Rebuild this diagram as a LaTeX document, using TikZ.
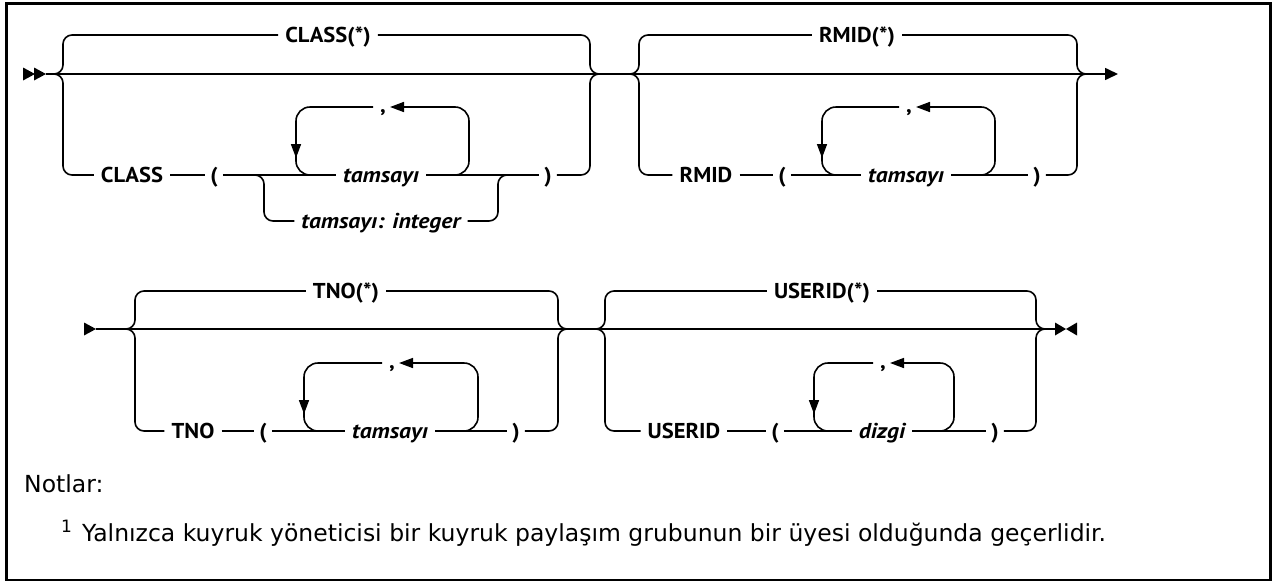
\documentclass[tikz,border=0pt]{standalone}
\usepackage{fontspec}
\usetikzlibrary{arrows.meta,calc}
\newfontfamily\lblf{PT Sans}[FakeStretch=1.05]
\newfontfamily\lblfi{PT Sans}[FakeStretch=1.1]
\newfontfamily\notef{DejaVu Sans}
\begin{document}
\begin{tikzpicture}[x=1pt,y=-1pt,
  ln/.style={line width=1.6pt},
  rc/.style={rounded corners=#1},
  kw/.style={font=\lblf\bfseries\fontsize{21.5}{25}\selectfont, inner xsep=7pt, inner ysep=0pt, text height=15pt, text depth=0pt},
  vr/.style={kw, font=\lblfi\bfseries\itshape\fontsize{21.5}{25}\selectfont},
  pr/.style={kw, inner xsep=5pt},
  commanode/.style={kw, anchor=base, inner xsep=0pt},
  arr/.style={-{Triangle[length=14pt,width=10pt]}},
  note/.style={font=\notef\fontsize{23.5}{27}\selectfont, inner sep=0pt, anchor=base west}]
\useasboundingbox (0,0) rectangle (1277,584);
\fill[white] (0,0) rectangle (1277,584);
\draw[line width=2.2pt] (6.5,3.5) rectangle (1270.5,580);

% ================= ROW 1 =================
\coordinate (st1) at (46,74);
\coordinate (en1) at (1118,74);
\fill (23,67.5) -- (35,74) -- (23,80.5) -- cycle;
\fill (34,67.5) -- (46,74) -- (34,80.5) -- cycle;
\draw[ln,-{Triangle[length=13pt,width=12pt]}] (st1) -- (en1);

% CLASS group
\coordinate (cL) at (63,74);
\coordinate (cR) at (590,74);
\node[kw] (cstar) at (328,35) {CLASS(*)};
\draw[ln,rc=9] ($(cL)+(-9,0)$) -- (cL) |- (cstar.west);
\draw[ln,rc=9] (cstar.east) -| (cR) -- ($(cR)+(9,0)$);
\node[kw] (class) at (132,175) {CLASS};
\node[pr] (lp1) at (214,175) {(};
\node[vr] (tam1) at (381,175) {tamsayı};
\node[pr] (rp1) at (548,175) {)};
\draw[ln,rc=9] ($(cL)+(-9,0)$) -- (cL) |- (class.west);
\draw[ln] (class.east) -- (lp1.west);
\draw[ln] (lp1.east) -- (tam1.west);
\draw[ln] (tam1.east) -- (rp1.west);
\draw[ln,rc=9] (rp1.east) -| (cR) -- ($(cR)+(9,0)$);
% integer alternative
\coordinate (i1L) at (264,175);
\coordinate (i1R) at (498,175);
\node[vr] (int1) at (381,221) {tamsayı: integer};
\draw[ln,rc=9] ($(i1L)+(-9,0)$) -- (i1L) |- (int1.west);
\draw[ln,rc=9] (int1.east) -| (i1R) -- ($(i1R)+(9,0)$);
% repeat loop
\coordinate (o1L) at (296,175);
\coordinate (o1R) at (469,175);
\node[commanode] (com1) at (383,112) {,};
\coordinate (t1) at (390,107);
\coordinate (g1) at (373,107);
\draw[ln,rc=14,arr] ($(o1R)+(-20,0)$) -- (o1R) -- (o1R |- t1) -- (t1);
\draw[ln,rc=14] (g1) -- (o1L |- g1) -- (o1L) -- ($(o1L)+(20,0)$);
\draw[ln,arr] ($(o1L)+(0,-40)$) -- ($(o1L)+(0,-17)$);

% RMID group
\coordinate (rL) at (639,74);
\coordinate (rR) at (1077,74);
\node[kw] (rstar) at (857,35) {RMID(*)};
\draw[ln,rc=9] ($(rL)+(-9,0)$) -- (rL) |- (rstar.west);
\draw[ln,rc=9] (rstar.east) -| (rR) -- ($(rR)+(9,0)$);
\node[kw] (rmid) at (706,175) {RMID};
\node[pr] (lp2) at (782,175) {(};
\node[vr] (tam2) at (906,175) {tamsayı};
\node[pr] (rp2) at (1037,175) {)};
\draw[ln,rc=9] ($(rL)+(-9,0)$) -- (rL) |- (rmid.west);
\draw[ln] (rmid.east) -- (lp2.west);
\draw[ln] (lp2.east) -- (tam2.west);
\draw[ln] (tam2.east) -- (rp2.west);
\draw[ln,rc=9] (rp2.east) -| (rR) -- ($(rR)+(9,0)$);
\coordinate (o2L) at (822,175);
\coordinate (o2R) at (995,175);
\node[commanode] (com2) at (909,112) {,};
\coordinate (t2) at (916,107);
\coordinate (g2) at (899,107);
\draw[ln,rc=14,arr] ($(o2R)+(-20,0)$) -- (o2R) -- (o2R |- t2) -- (t2);
\draw[ln,rc=14] (g2) -- (o2L |- g2) -- (o2L) -- ($(o2L)+(20,0)$);
\draw[ln,arr] ($(o2L)+(0,-40)$) -- ($(o2L)+(0,-17)$);

% ================= ROW 2 =================
\coordinate (st2) at (96,329);
\coordinate (en2) at (1055,329);
\fill (84,322.5) -- (96,329) -- (84,335.5) -- cycle;
\draw[ln] (st2) -- (en2);
\fill (1055,322.5) -- (1066,329) -- (1055,335.5) -- cycle;
\fill (1077,322.5) -- (1066,329) -- (1077,335.5) -- cycle;

% TNO group
\coordinate (tL) at (135,329);
\coordinate (tR) at (558,329);
\node[kw] (tstar) at (346,291) {TNO(*)};
\draw[ln,rc=9] ($(tL)+(-9,0)$) -- (tL) |- (tstar.west);
\draw[ln,rc=9] (tstar.east) -| (tR) -- ($(tR)+(9,0)$);
\node[kw] (tno) at (193,431) {TNO};
\node[pr] (lp3) at (263,431) {(};
\node[vr] (tam3) at (390,431) {tamsayı};
\node[pr] (rp3) at (516,431) {)};
\draw[ln,rc=9] ($(tL)+(-9,0)$) -- (tL) |- (tno.west);
\draw[ln] (tno.east) -- (lp3.west);
\draw[ln] (lp3.east) -- (tam3.west);
\draw[ln] (tam3.east) -- (rp3.west);
\draw[ln,rc=9] (rp3.east) -| (tR) -- ($(tR)+(9,0)$);
\coordinate (o3L) at (304,431);
\coordinate (o3R) at (478,431);
\node[commanode] (com3) at (392,368) {,};
\coordinate (t3) at (399,363);
\coordinate (g3) at (382,363);
\draw[ln,rc=14,arr] ($(o3R)+(-20,0)$) -- (o3R) -- (o3R |- t3) -- (t3);
\draw[ln,rc=14] (g3) -- (o3L |- g3) -- (o3L) -- ($(o3L)+(20,0)$);
\draw[ln,arr] ($(o3L)+(0,-40)$) -- ($(o3L)+(0,-17)$);

% USERID group
\coordinate (uL) at (605,329);
\coordinate (uR) at (1036,329);
\node[kw] (ustar) at (822,291) {USERID(*)};
\draw[ln,rc=9] ($(uL)+(-9,0)$) -- (uL) |- (ustar.west);
\draw[ln,rc=9] (ustar.east) -| (uR) -- ($(uR)+(9,0)$);
\node[kw] (userid) at (684,431) {USERID};
\node[pr] (lp4) at (775,431) {(};
\node[vr] (diz) at (882,431) {dizgi};
\node[pr] (rp4) at (995,431) {)};
\draw[ln,rc=9] ($(uL)+(-9,0)$) -- (uL) |- (userid.west);
\draw[ln] (userid.east) -- (lp4.west);
\draw[ln] (lp4.east) -- (diz.west);
\draw[ln] (diz.east) -- (rp4.west);
\draw[ln,rc=9] (rp4.east) -| (uR) -- ($(uR)+(9,0)$);
\coordinate (o4L) at (814,431);
\coordinate (o4R) at (954,431);
\node[commanode] (com4) at (883,368) {,};
\coordinate (t4) at (890,363);
\coordinate (g4) at (873,363);
\draw[ln,rc=14,arr] ($(o4R)+(-20,0)$) -- (o4R) -- (o4R |- t4) -- (t4);
\draw[ln,rc=14] (g4) -- (o4L |- g4) -- (o4L) -- ($(o4L)+(20,0)$);
\draw[ln,arr] ($(o4L)+(0,-40)$) -- ($(o4L)+(0,-17)$);

% ================= NOTES =================
\node[note] (notlar) at (24,492) {Notlar:};
\node[note, font=\notef\fontsize{17}{17}\selectfont] (fn1) at (61,532) {1};
\node[note] (fn) at (82,541) {Yalnızca kuyruk yöneticisi bir kuyruk paylaşım grubunun bir üyesi olduğunda geçerlidir.};
\end{tikzpicture}
\end{document}
